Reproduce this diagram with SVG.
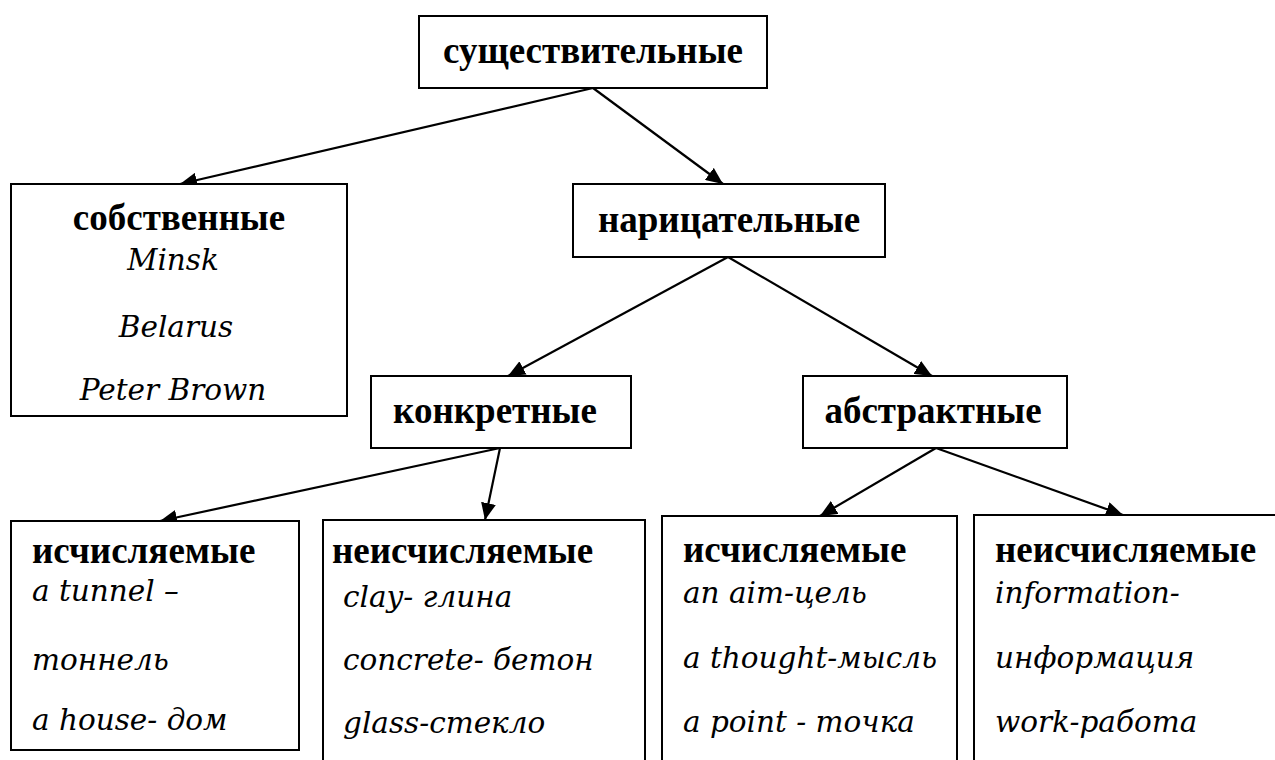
<svg xmlns="http://www.w3.org/2000/svg" width="1275" height="760" viewBox="0 0 1275 760">
  <style>
    .box { fill: #ffffff; stroke: #000000; stroke-width: 2; }
    .edge { fill: none; stroke: #000000; stroke-width: 2.2; marker-end: url(#arrow); }
    .head { font-family: "Liberation Serif", serif; font-weight: bold; font-size: 37px; fill: #000000; }
    .item { font-family: "DejaVu Serif", serif; font-style: italic; font-size: 29.5px; fill: #000000; }
    .mid { text-anchor: middle; }
  </style>
  <defs>
    <marker id="arrow" markerUnits="userSpaceOnUse" markerWidth="17" markerHeight="15" refX="17" refY="7.5" orient="auto">
      <path d="M0,0 L17,7.5 L0,15 Z" fill="#000000"/>
    </marker>
  </defs>
  <rect width="1275" height="760" fill="#ffffff"/>

  <!-- connectors -->
  <g id="connectors">
    <line class="edge" x1="593" y1="88" x2="180" y2="184"/>
    <line class="edge" x1="593" y1="88" x2="723" y2="184"/>
    <line class="edge" x1="728" y1="257" x2="508" y2="376"/>
    <line class="edge" x1="728" y1="257" x2="932" y2="376"/>
    <line class="edge" x1="500" y1="448" x2="160" y2="521"/>
    <line class="edge" x1="500" y1="448" x2="485" y2="520"/>
    <line class="edge" x1="936" y1="448" x2="820" y2="516"/>
    <line class="edge" x1="936" y1="448" x2="1123" y2="515"/>
  </g>

  <!-- root -->
  <g id="node-nouns">
    <rect class="box" x="419" y="16" width="348" height="72"/>
    <text class="head mid" x="593" y="63">существительные</text>
  </g>

  <!-- proper nouns -->
  <g id="node-proper">
    <rect class="box" x="11" y="184" width="336" height="232"/>
    <text class="head mid" x="179" y="230">собственные</text>
    <text class="item mid" x="173" y="270">Minsk</text>
    <text class="item mid" x="176" y="337">Belarus</text>
    <text class="item mid" x="173" y="400">Peter Brown</text>
  </g>

  <!-- common nouns -->
  <g id="node-common">
    <rect class="box" x="573" y="184" width="312" height="73"/>
    <text class="head mid" x="729" y="232">нарицательные</text>
  </g>

  <!-- concrete -->
  <g id="node-concrete">
    <rect class="box" x="371" y="376" width="260" height="72"/>
    <text class="head mid" x="495" y="423">конкретные</text>
  </g>

  <!-- abstract -->
  <g id="node-abstract">
    <rect class="box" x="803" y="376" width="264" height="72"/>
    <text class="head mid" x="933" y="423">абстрактные</text>
  </g>

  <!-- concrete: countable -->
  <g id="node-concrete-countable">
    <rect class="box" x="11" y="521" width="288" height="229"/>
    <text class="head" x="32" y="563">исчисляемые</text>
    <text class="item" x="32" y="601">a tunnel –</text>
    <text class="item" x="32" y="670">тоннель</text>
    <text class="item" x="32" y="730">a house- дом</text>
  </g>

  <!-- concrete: uncountable -->
  <g id="node-concrete-uncountable">
    <rect class="box" x="323" y="520" width="322" height="260"/>
    <text class="head" x="332" y="563">неисчисляемые</text>
    <text class="item" x="343" y="607">clay- глина</text>
    <text class="item" x="343" y="670">concrete- бетон</text>
    <text class="item" x="343" y="733">glass-стекло</text>
  </g>

  <!-- abstract: countable -->
  <g id="node-abstract-countable">
    <rect class="box" x="662" y="516" width="295" height="264"/>
    <text class="head" x="683" y="562">исчисляемые</text>
    <text class="item" x="683" y="603">an aim-цель</text>
    <text class="item" x="683" y="668">a thought-мысль</text>
    <text class="item" x="683" y="732">a point - точка</text>
  </g>

  <!-- abstract: uncountable -->
  <g id="node-abstract-uncountable">
    <rect class="box" x="974" y="515" width="320" height="265"/>
    <text class="head" x="995" y="562">неисчисляемые</text>
    <text class="item" x="995" y="603">information-</text>
    <text class="item" x="995" y="668">информация</text>
    <text class="item" x="995" y="732">work-работа</text>
  </g>
</svg>
